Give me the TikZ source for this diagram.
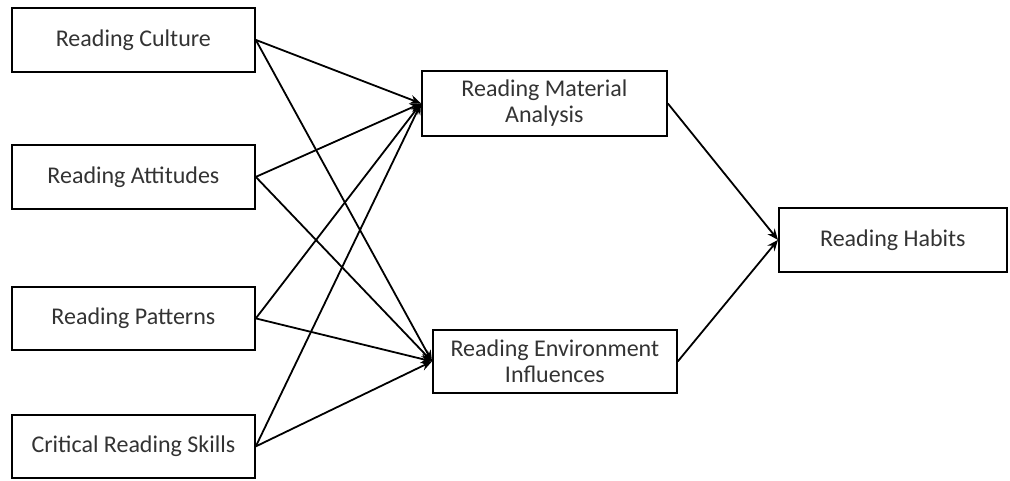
\documentclass[tikz,border=0pt]{standalone}
\usepackage{fontspec}
\setmainfont{Carlito}
\usetikzlibrary{arrows.meta}

\begin{document}
\begin{tikzpicture}[x=1pt, y=-1pt,
  every node/.style={draw, line width=1.8pt, inner sep=0pt, anchor=north west, align=center, text=black!80},
  font=\fontsize{24}{26}\selectfont,
  arr/.style={line width=1.8pt, -{Stealth[length=11pt, width=9pt]}}]

\useasboundingbox (0,0) rectangle (1010,480);

% Factors
\node[minimum width=243pt, minimum height=64pt] (culture) at (11,7) {Reading Culture};
\node[minimum width=243pt, minimum height=64pt] (attitudes) at (11,144) {Reading Attitudes};
\node[minimum width=243pt, minimum height=63pt] (patterns) at (11,286) {Reading Patterns};
\node[minimum width=243pt, minimum height=63pt] (skills) at (11,414) {Critical Reading Skills};

% Mediators
\node[minimum width=245pt, minimum height=65pt] (material) at (421,70) {Reading Material\\Analysis};
\node[minimum width=244pt, minimum height=63pt] (environment) at (432,329) {Reading Environment\\Influences};

% Outcome
\node[minimum width=228pt, minimum height=64pt] (habits) at (778,207) {Reading Habits};

% Paths
\foreach \src in {culture, attitudes, patterns, skills} {
  \draw[arr] (\src.east) -- (material.west);
  \draw[arr] (\src.east) -- (environment.west);
}
\draw[arr] (material.east) -- (habits.west);
\draw[arr] (environment.east) -- (habits.west);

\end{tikzpicture}
\end{document}
